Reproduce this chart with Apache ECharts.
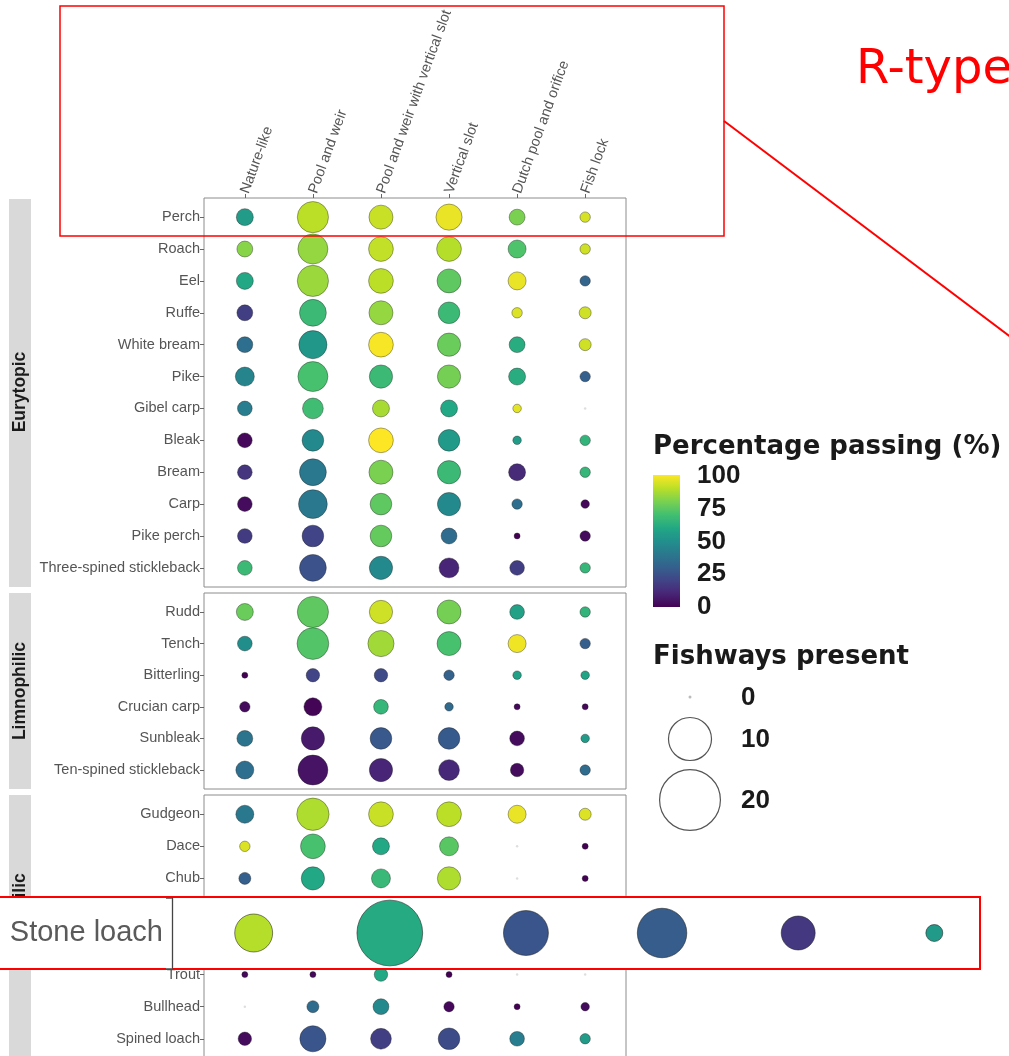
<!DOCTYPE html>
<html>
<head>
<meta charset="utf-8">
<title>Percentage passing by fishway type</title>
<script src="https://cdn.jsdelivr.net/npm/echarts@6/dist/echarts.min.js"></script>
<style>
  html, body { margin: 0; padding: 0; background: #fff; }
  #chart { width: 1009px; height: 1056px; }
</style>
</head>
<body>
<div id="chart"></div>
<script>
// fishway types (columns)
const methods = ['Nature-like', 'Pool and weir', 'Pool and weir with vertical slot', 'Vertical slot', 'Dutch pool and orifice', 'Fish lock']

// Eurytopic
const euryNames = ['Perch', 'Roach', 'Eel', 'Ruffe', 'White bream', 'Pike', 'Gibel carp', 'Bleak', 'Bream', 'Carp', 'Pike perch', 'Three-spined stickleback']
const euryPassing = [
  [55, 90, 92, 97, 80, 94],
  [82, 84, 91, 89, 72, 93],
  [60, 85, 90, 75, 97, 32],
  [18, 68, 84, 68, 95, 93],
  [36, 53, 99, 77, 62, 93],
  [45, 71, 68, 79, 62, 30],
  [42, 69, 87, 60, 96, null],
  [2, 47, 100, 54, 55, 65],
  [15, 40, 80, 68, 12, 66],
  [3, 40, 75, 47, 36, 2],
  [17, 20, 76, 35, 0, 3],
  [68, 25, 47, 10, 18, 66]
]
const euryFishways = [
  [8, 27, 16, 19, 7, 3],
  [7, 25, 17, 17, 9, 3],
  [8, 27, 17, 16, 9, 3],
  [7, 20, 16, 13, 3, 4],
  [7, 22, 17, 15, 7, 4],
  [10, 25, 15, 15, 8, 3],
  [6, 12, 8, 8, 2, 0],
  [6, 13, 17, 13, 2, 3],
  [6, 20, 16, 15, 8, 3],
  [6, 23, 13, 15, 3, 2],
  [6, 13, 13, 7, 1, 3],
  [6, 20, 15, 11, 6, 3]
]

// Limnophilic
const limnoNames = ['Rudd', 'Tench', 'Bitterling', 'Crucian carp', 'Sunbleak', 'Ten-spined stickleback']
const limnoPassing = [
  [77, 75, 93, 79, 57, 65],
  [49, 73, 86, 71, 98, 30],
  [0, 20, 22, 31, 57, 58],
  [3, 1, 66, 34, 2, 2],
  [38, 7, 27, 28, 3, 55],
  [36, 5, 10, 11, 3, 35]
]
const limnoFishways = [
  [8, 27, 15, 16, 6, 3],
  [6, 28, 19, 16, 9, 3],
  [1, 5, 5, 3, 2, 2],
  [3, 9, 6, 2, 1, 1],
  [7, 15, 13, 13, 6, 2],
  [9, 25, 15, 12, 5, 3]
]

// Rheophilic (row 4 is hidden under the callout in the picture)
const rheoNames = ['Gudgeon', 'Dace', 'Chub', '', 'Stone loach', 'Trout', 'Bullhead', 'Spined loach']
const rheoPassing = [
  [40, 88, 92, 90, 97, 95],
  [95, 71, 60, 74, null, 0],
  [30, 60, 67, 88, null, 0],
  [null, null, null, null, null, null],
  [89, 61, 26, 29, 16, 54],
  [2, 2, 60, 0, null, null],
  [null, 35, 47, 2, 0, 3],
  [3, 26, 18, 23, 42, 55]
]
const rheoFishways = [
  [9, 29, 17, 17, 9, 4],
  [3, 17, 8, 10, 0, 1],
  [4, 15, 10, 15, 0, 1],
  [null, null, null, null, null, null],
  [10, 30, 14, 17, 8, 2],
  [1, 1, 5, 1, 0, 0],
  [0, 4, 7, 3, 1, 2],
  [5, 19, 12, 13, 6, 3]
]

// callout row
const calloutName = 'Stone loach'
const calloutPassing = rheoPassing[4]
const calloutFishways = rheoFishways[4]

const legendBreaks = [100, 75, 50, 25, 0]
const sizeBreaks = [0, 10, 20]

const viridis = ['#440154', '#482576', '#414487', '#35608D', '#2A788E', '#21908C', '#22A884', '#43BF71', '#7AD151', '#BBDF27', '#FDE725']

const chart = echarts.init(document.getElementById('chart'))

function cells(passing, fishways) {
  const present = []
  const absent = []
  passing.forEach((row, r) => {
    row.forEach((pct, c) => {
      const n = fishways[r][c]
      if (n === null) return
      if (n > 0) present.push([c + 1, r + 1, n, pct])
      else absent.push([c + 1, r + 1, 0])
    })
  })
  return { present, absent }
}

const panels = [
  { name: 'Eurytopic', names: euryNames, cells: cells(euryPassing, euryFishways), top: 198, height: 389 },
  { name: 'Limnophilic', names: limnoNames, cells: cells(limnoPassing, limnoFishways), top: 593, height: 196 },
  { name: 'Rheophilic', names: rheoNames, cells: cells(rheoPassing, rheoFishways), top: 795, height: 263 }
]

const labelFont = 'Liberation Sans, Arial, sans-serif'
const cols = methods.map((m, i) => i + 1)
const bubble = n => n > 0 ? 6 * Math.sqrt(n) : 2.5

const grid = []
const xAxis = []
const yAxis = []
const series = []

panels.forEach((p, i) => {
  const rows = p.names.map((s, k) => k + 1)
  grid.push({
    left: 204, top: p.top, width: 422, height: p.height,
    show: true, borderColor: '#8c8c8c', borderWidth: 1, backgroundColor: 'transparent',
    outerBoundsMode: 'none'
  })
  xAxis.push({
    type: 'value', gridIndex: i, min: 0.4, max: 6.6, position: 'top',
    splitLine: { show: false },
    axisLine: { show: false },
    axisTick: { show: i === 0, customValues: cols, length: 4, lineStyle: { color: '#666' } },
    axisLabel: {
      show: i === 0, customValues: cols, rotate: -70, margin: 5,
      formatter: v => methods[v - 1],
      color: '#555', fontSize: 14.5, fontFamily: labelFont
    }
  })
  yAxis.push({
    type: 'value', gridIndex: i, inverse: true, min: 0.4, max: p.names.length + 0.6,
    splitLine: { show: false },
    axisLine: { show: false },
    axisTick: { customValues: rows, length: 4, lineStyle: { color: '#666' } },
    axisLabel: {
      customValues: rows, margin: 4,
      formatter: v => p.names[v - 1],
      color: '#555', fontSize: 14.5, fontFamily: labelFont
    }
  })
  series.push({
    type: 'scatter', xAxisIndex: i, yAxisIndex: i,
    data: p.cells.present,
    symbolSize: v => bubble(v[2]),
    itemStyle: { borderColor: 'rgba(30,30,30,0.55)', borderWidth: 0.7, opacity: 1 }
  })
})

// callout: the Stone loach row drawn at twice the scale
grid.push({ left: 172, top: 898, width: 844, height: 70, show: false, outerBoundsMode: 'none' })
xAxis.push({ type: 'value', gridIndex: 3, min: 0.4, max: 6.6, show: false })
yAxis.push({
  type: 'category', gridIndex: 3, data: [calloutName], z: 20,
  axisLine: { show: true, lineStyle: { color: '#444', width: 1.3 } },
  axisTick: { show: true, length: 6, lineStyle: { color: '#777' } },
  axisLabel: { margin: 9, color: '#5a5a5a', fontSize: 29, fontFamily: labelFont }
})
series.push({
  type: 'scatter', xAxisIndex: 3, yAxisIndex: 3, z: 20,
  data: calloutPassing.map((pct, c) => [c + 1, 0, calloutFishways[c], pct]).filter(d => d[2] > 0),
  symbolSize: v => 2 * bubble(v[2]),
  itemStyle: { borderColor: 'rgba(30,30,30,0.55)', borderWidth: 1, opacity: 1 }
})

// fishways with no records
panels.forEach((p, i) => {
  series.push({
    type: 'scatter', xAxisIndex: i, yAxisIndex: i,
    data: p.cells.absent,
    symbolSize: 2.5,
    itemStyle: { color: '#d6d6d6' }
  })
})

const graphic = []
const strips = [[199, 388, 392], [593, 196, 691], [795, 275, 918]]
panels.forEach((p, i) => {
  const s = strips[i]
  graphic.push({ type: 'rect', shape: { x: 9, y: s[0], width: 22, height: s[1] }, style: { fill: '#d9d9d9' } })
  graphic.push({
    type: 'text', x: 20, y: s[2], rotation: Math.PI / 2,
    style: { text: p.name, fill: '#1a1a1a', font: 'bold 17.5px Liberation Sans, Arial, sans-serif', align: 'center', verticalAlign: 'middle' }
  })
})

// colour bar legend
graphic.push({
  type: 'text', x: 653, y: 447,
  style: { text: 'Percentage passing (%)', fill: '#1a1a1a', font: 'bold 26px DejaVu Sans, sans-serif', verticalAlign: 'middle' }
})
graphic.push({
  type: 'rect', shape: { x: 653, y: 475, width: 27, height: 132 },
  style: {
    fill: {
      type: 'linear', x: 0, y: 0, x2: 0, y2: 1,
      colorStops: viridis.slice().reverse().map((c, k) => ({ offset: k / (viridis.length - 1), color: c }))
    }
  }
})
legendBreaks.forEach(b => {
  graphic.push({
    type: 'text', x: 697, y: 476 + (100 - b) / 100 * 131,
    style: { text: String(b), fill: '#1a1a1a', font: 'bold 26px Liberation Sans, Arial, sans-serif', verticalAlign: 'middle' }
  })
})

// size legend
graphic.push({
  type: 'text', x: 653, y: 657,
  style: { text: 'Fishways present', fill: '#1a1a1a', font: 'bold 26px DejaVu Sans, sans-serif', verticalAlign: 'middle' }
})
const sizeY = [697, 739, 800]
sizeBreaks.forEach((b, k) => {
  const r = b > 0 ? 6.8 * Math.sqrt(b) : 1.5
  graphic.push({
    type: 'circle', shape: { cx: 690, cy: sizeY[k], r: r },
    style: b > 0 ? { fill: '#fff', stroke: '#555', lineWidth: 1.2 } : { fill: '#bbb' }
  })
  graphic.push({
    type: 'text', x: 741, y: sizeY[k] + 1,
    style: { text: String(b), fill: '#1a1a1a', font: 'bold 26px Liberation Sans, Arial, sans-serif', verticalAlign: 'middle' }
  })
})

// annotations
graphic.push({
  type: 'rect', z: 10, shape: { x: -2, y: 897, width: 982, height: 72 },
  style: { fill: '#fff', stroke: '#ff0000', lineWidth: 2 }
})
graphic.push({
  type: 'rect', z: 30, shape: { x: 60, y: 6, width: 664, height: 230 },
  style: { fill: 'none', stroke: '#ff0000', lineWidth: 1.5 }
})
graphic.push({
  type: 'line', z: 30, shape: { x1: 724, y1: 121, x2: 1012, y2: 338 },
  style: { stroke: '#ff0000', lineWidth: 2 }
})
graphic.push({
  type: 'text', z: 30, x: 856, y: 71,
  style: { text: 'R-type', fill: '#ff0000', font: '48px DejaVu Sans, sans-serif', verticalAlign: 'middle' }
})

chart.setOption({
  animation: false,
  backgroundColor: '#fff',
  grid: grid,
  xAxis: xAxis,
  yAxis: yAxis,
  visualMap: {
    type: 'continuous', show: false, min: 0, max: 100, dimension: 3,
    seriesIndex: [0, 1, 2, 3],
    inRange: { color: viridis }
  },
  series: series,
  graphic: graphic
})
</script>
</body>
</html>
